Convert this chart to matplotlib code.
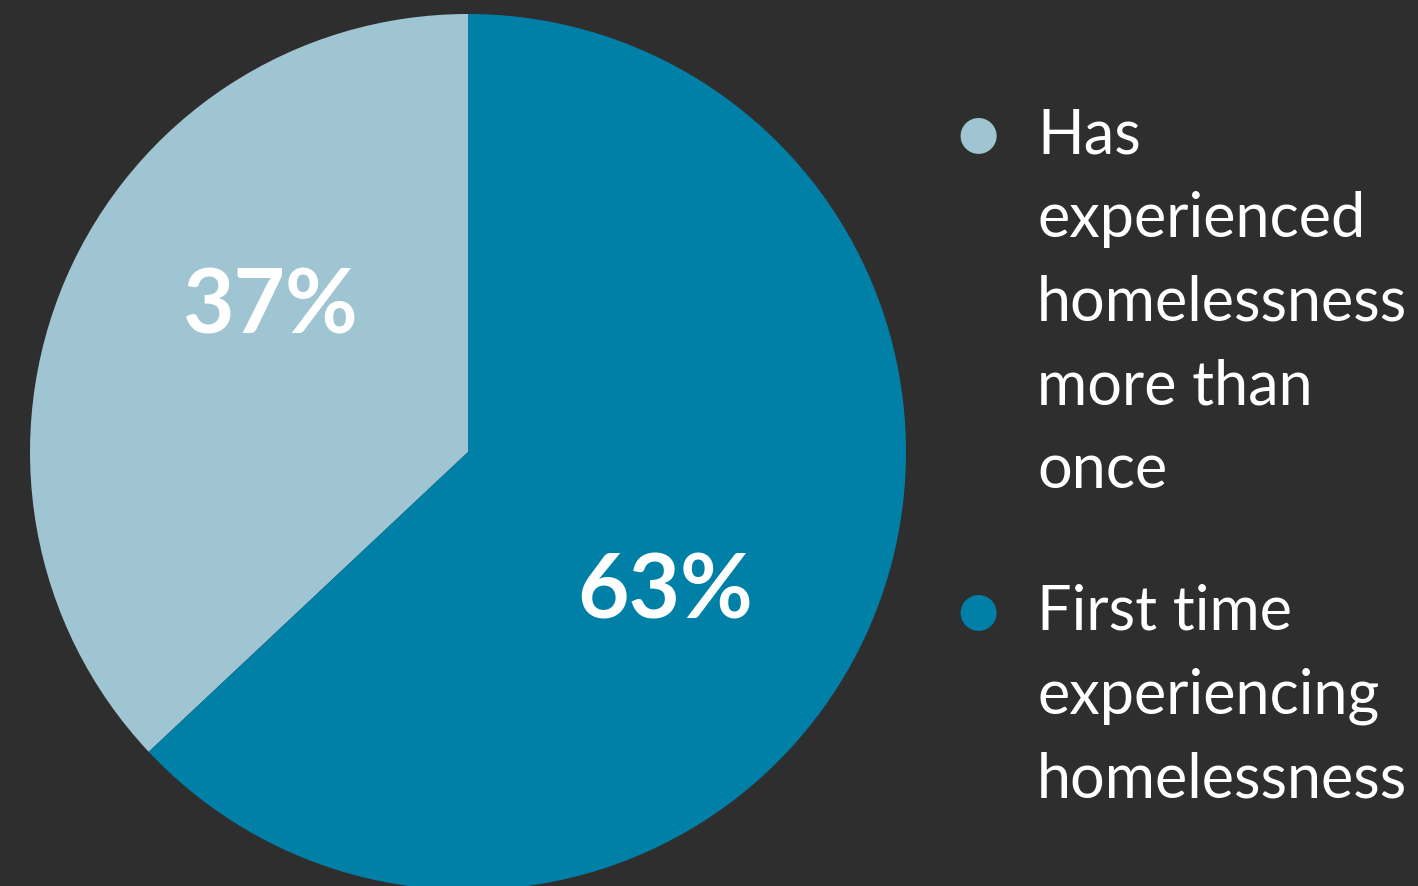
import matplotlib.pyplot as plt

labels = ["Has\nexperienced\nhomelessness\nmore than\nonce",
          "First time\nexperiencing\nhomelessness"]
values = [37, 63]
pct_labels = ["37%", "63%"]
colors = ["#9fc5d3", "#0080a6"]

bg = "#2e2e2e"
W, H = 1418, 886

fig = plt.figure(figsize=(W / 100, H / 100), dpi=100)
fig.patch.set_facecolor(bg)

# pie axes: centre (468, 452) px from top, radius 438 px
cx, cy, r = 468, 452, 438
ax = fig.add_axes([(cx - r) / W, (H - cy - r) / H, 2 * r / W, 2 * r / H])
ax.set_facecolor(bg)
ax.pie(values, colors=colors, startangle=90, counterclock=True,
       wedgeprops=dict(linewidth=0))
ax.set_xlim(-1, 1)
ax.set_ylim(-1, 1)
ax.set_aspect("equal")
ax.axis("off")

# percentage labels
pct_pos = [(-0.452, 0.33), (0.45, -0.32)]
for (x, y), t in zip(pct_pos, pct_labels):
    ax.text(x, y, t, ha="center", va="center", color="white",
            fontsize=64, fontweight="bold", family="Lato")

# legend drawn by hand
legend_y = [135, 612]
for y, lab, c in zip(legend_y, labels, colors):
    fig.text(978 / W, 1 - y / H, "\u25CF", color=c, fontsize=34,
             ha="center", va="center", family="DejaVu Sans")
    fig.text(1037 / W, 1 - (y - 28) / H, lab, color="white", fontsize=44,
             ha="left", va="top", family="Lato", linespacing=1.58)

fig.savefig("out.png", dpi=100, facecolor=bg)
